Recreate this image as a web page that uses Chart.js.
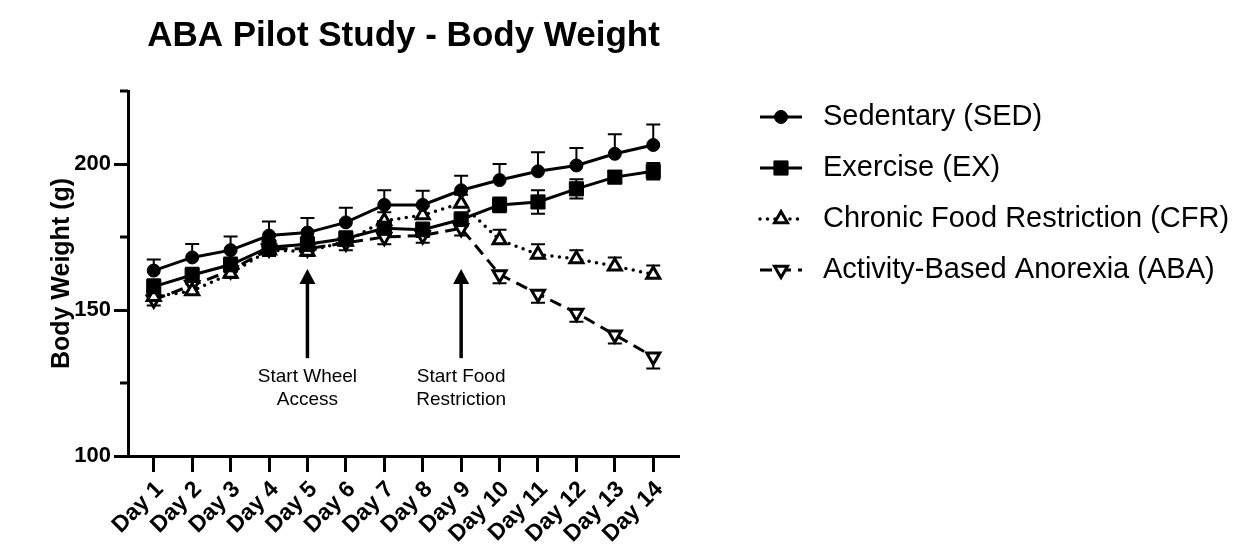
<!DOCTYPE html>
<html>
<head>
<meta charset="utf-8">
<script src="https://cdn.jsdelivr.net/npm/chart.js@4.4.1/dist/chart.umd.min.js"></script>
<style>
  html, body { margin: 0; padding: 0; background: #fff; }
  #wrap { width: 1237px; height: 557px; position: relative; }
</style>
</head>
<body>
<div id="wrap"><canvas id="myChart"></canvas></div>
<script>
// Body weight (g) per day, mean and error
const days = ['Day 1', 'Day 2', 'Day 3', 'Day 4', 'Day 5', 'Day 6', 'Day 7',
              'Day 8', 'Day 9', 'Day 10', 'Day 11', 'Day 12', 'Day 13', 'Day 14']

const sedMean = [163.5, 168, 170.5, 175.5, 176.5, 180, 186, 186, 191, 194.5, 197.5, 199.5, 203.5, 206.5]
const sedErr  = [3.8, 4.6, 4.7, 4.8, 5, 5, 5, 4.8, 5, 5.5, 6.5, 6, 6.7, 7]

const exMean = [158, 162, 165.5, 171.5, 172.5, 174.5, 178, 177.5, 181, 186, 187, 191.5, 195.5, 197.5]
const exErr  = [2.5, 2.5, 2.5, 2.5, 2.5, 2.5, 2.5, 2.5, 2.5, 2.5, 4, 3.3, 2, 2.8]

const cfrMean = [154.5, 156.5, 162.5, 170.5, 170, 173.5, 180.5, 182.5, 186.5, 174, 169, 167.5, 165, 162.2]
const cfrErr  = [2, 2.5, 2.5, 2.5, 2.5, 2.5, 3, 3, 3, 3.5, 3.5, 3, 3, 3]

const abaMean = [153.5, 158.5, 163.5, 171, 171, 173, 175, 175.5, 178, 162.2, 155.5, 149, 141.5, 134]
const abaErr  = [2, 2.5, 2.5, 2.5, 2.5, 2.5, 2.5, 2.5, 2.5, 3, 3, 3, 3, 4]

const yLabelTicks = [100, 150, 200]

// arrows under the curves: day they point at, and text below them
const annotations = [
  { day: 5, text: ['Start Wheel', 'Access'] },
  { day: 9, text: ['Start Food', 'Restriction'] }
]
const arrowTip = 164
const arrowTail = 133.5

const FONT = 'Arial, "Liberation Sans", Helvetica, sans-serif'


function toPoints(values) {
  return values.map((v, i) => ({ x: i + 1, y: v }))
}


// error bars go under the markers
const errorBars = {
  id: 'errorBars',
  beforeDatasetsDraw(chart) {
    const ctx = chart.ctx
    const yScale = chart.scales.y
    ctx.save()
    ctx.strokeStyle = '#000'
    ctx.lineWidth = 2
    chart.data.datasets.forEach((ds, i) => {
      const meta = chart.getDatasetMeta(i)
      meta.data.forEach((pt, j) => {
        const v = ds.data[j].y
        const e = ds.err[j]
        let ends = []
        if (ds.errDir !== 'down') ends.push(yScale.getPixelForValue(v + e))
        if (ds.errDir !== 'up') ends.push(yScale.getPixelForValue(v - e))
        ends.forEach((ye) => {
          ctx.beginPath()
          ctx.moveTo(pt.x, pt.y)
          ctx.lineTo(pt.x, ye)
          ctx.moveTo(pt.x - 7, ye)
          ctx.lineTo(pt.x + 7, ye)
          ctx.stroke()
        })
      })
    })
    ctx.restore()
  }
}


const extras = {
  id: 'extras',
  afterDraw(chart) {
    const ctx = chart.ctx
    const xScale = chart.scales.x
    const yScale = chart.scales.y
    const area = chart.chartArea

    // minor y ticks
    ctx.save()
    ctx.strokeStyle = '#000'
    ctx.lineWidth = 3
    yScale.ticks.forEach((t) => {
      if (yLabelTicks.includes(t.value)) return
      const y = yScale.getPixelForValue(t.value)
      ctx.beginPath()
      ctx.moveTo(area.left - 8, y)
      ctx.lineTo(area.left, y)
      ctx.stroke()
    })

    // arrows + labels
    annotations.forEach((a) => {
      const x = xScale.getPixelForValue(a.day)
      const yTip = yScale.getPixelForValue(arrowTip)
      const yTail = yScale.getPixelForValue(arrowTail)
      ctx.lineWidth = 3.5
      ctx.beginPath()
      ctx.moveTo(x, yTail)
      ctx.lineTo(x, yTip + 10)
      ctx.stroke()
      ctx.fillStyle = '#000'
      ctx.beginPath()
      ctx.moveTo(x, yTip)
      ctx.lineTo(x - 8, yTip + 15)
      ctx.lineTo(x + 8, yTip + 15)
      ctx.closePath()
      ctx.fill()
      ctx.font = '19px ' + FONT
      ctx.textAlign = 'center'
      ctx.textBaseline = 'middle'
      a.text.forEach((line, k) => {
        ctx.fillText(line, x, yTail + 19 + k * 23)
      })
    })

    // legend
    chart.data.datasets.forEach((ds, i) => {
      const y = 117 + i * 51
      const x0 = area.right + 81
      const x1 = x0 + 42
      const xm = (x0 + x1) / 2
      ctx.strokeStyle = '#000'
      ctx.lineWidth = ds.borderWidth
      ctx.setLineDash(ds.borderDash || [])
      ctx.lineCap = ds.borderCapStyle || 'butt'
      ctx.beginPath()
      ctx.moveTo(x0, y)
      ctx.lineTo(x1, y)
      ctx.stroke()
      ctx.setLineDash([])
      ctx.lineCap = 'butt'
      ctx.fillStyle = ds.pointBackgroundColor
      ctx.lineWidth = ds.pointBorderWidth
      Chart.helpers.drawPoint(ctx, {
        pointStyle: ds.pointStyle,
        rotation: ds.pointRotation || 0,
        radius: ds.pointRadius,
        borderWidth: ds.pointBorderWidth
      }, xm, y)
      ctx.fillStyle = '#000'
      ctx.font = '29px ' + FONT
      ctx.textAlign = 'left'
      ctx.textBaseline = 'middle'
      ctx.fillText(ds.label, x0 + 63, y)
    })
    ctx.restore()
  }
}


const ctx = document.getElementById('myChart')
const myChart = new Chart(ctx, {
  type: 'line',
  data: {
    datasets: [{
      label: 'Sedentary (SED)',
      data: toPoints(sedMean),
      err: sedErr,
      errDir: 'up',
      borderColor: '#000',
      borderWidth: 3,
      pointStyle: 'circle',
      pointRadius: 6.5,
      pointBackgroundColor: '#000',
      pointBorderColor: '#000',
      pointBorderWidth: 1
    },
    {
      label: 'Exercise (EX)',
      data: toPoints(exMean),
      err: exErr,
      errDir: 'both',
      borderColor: '#000',
      borderWidth: 3,
      pointStyle: 'rect',
      pointRadius: 10,
      pointBackgroundColor: '#000',
      pointBorderColor: '#000',
      pointBorderWidth: 1
    },
    {
      label: 'Chronic Food Restriction (CFR)',
      data: toPoints(cfrMean),
      err: cfrErr,
      errDir: 'up',
      borderColor: '#000',
      borderWidth: 3.5,
      borderDash: [0, 7.5],
      borderCapStyle: 'round',
      pointStyle: 'triangle',
      pointRadius: 7.5,
      pointBackgroundColor: '#fff',
      pointBorderColor: '#000',
      pointBorderWidth: 3
    },
    {
      label: 'Activity-Based Anorexia (ABA)',
      data: toPoints(abaMean),
      err: abaErr,
      errDir: 'down',
      borderColor: '#000',
      borderWidth: 3,
      borderDash: [12, 7],
      pointStyle: 'triangle',
      pointRotation: 180,
      pointRadius: 7.5,
      pointBackgroundColor: '#fff',
      pointBorderColor: '#000',
      pointBorderWidth: 3
    }]
  },
  options: {
    responsive: true,
    maintainAspectRatio: false,
    animation: false,
    layout: {
      padding: { left: 0, right: 558, top: 0, bottom: 0 }
    },
    elements: {
      line: { tension: 0 }
    },
    scales: {
      x: {
        type: 'linear',
        min: 0.33,
        max: 14.67,
        afterBuildTicks: (s) => { s.ticks = days.map((d, i) => ({ value: i + 1 })) },
        afterFit: (s) => { s.height = 101 },
        ticks: {
          callback: (v) => days[v - 1],
          autoSkip: false,
          maxRotation: 45,
          minRotation: 45,
          padding: 4,
          labelOffset: 6,
          color: '#000',
          font: { family: FONT, size: 23, weight: 'bold' }
        },
        grid: {
          drawOnChartArea: false,
          drawTicks: true,
          tickLength: 16,
          tickWidth: 3,
          tickColor: '#000'
        },
        border: { color: '#000', width: 3 }
      },
      y: {
        min: 100,
        max: 225,
        afterFit: (s) => { s.width = 128 },
        ticks: {
          stepSize: 25,
          callback: (v) => yLabelTicks.includes(v) ? v : '',
          padding: 3,
          color: '#000',
          font: { family: FONT, size: 22, weight: 'bold' }
        },
        grid: {
          drawOnChartArea: false,
          drawTicks: true,
          tickLength: 14,
          tickWidth: 3,
          tickColor: (c) => yLabelTicks.includes(c.tick.value) ? '#000' : 'rgba(0,0,0,0)'
        },
        border: { color: '#000', width: 3 },
        title: {
          display: true,
          text: 'Body Weight (g)',
          color: '#000',
          padding: { top: 47, bottom: 0 },
          font: { family: FONT, size: 25, weight: 'bold' }
        }
      }
    },
    plugins: {
      legend: { display: false },
      tooltip: { enabled: false },
      title: {
        display: true,
        text: 'ABA Pilot Study - Body Weight',
        color: '#000',
        fullSize: false,
        padding: { top: 15, bottom: 34 },
        font: { family: FONT, size: 35, weight: 'bold' }
      }
    }
  },
  plugins: [errorBars, extras]
})
</script>
</body>
</html>
